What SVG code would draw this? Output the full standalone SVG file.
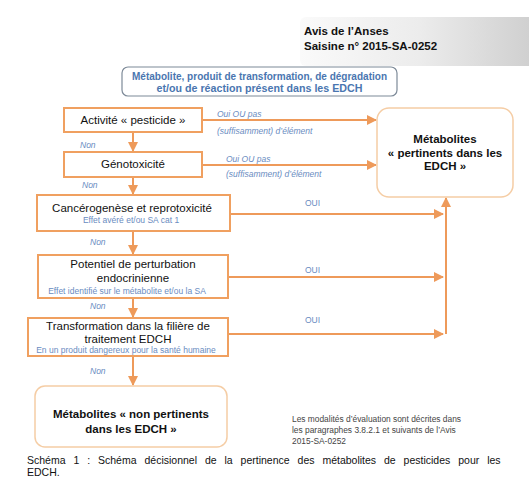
<svg xmlns="http://www.w3.org/2000/svg" width="529" height="487" viewBox="0 0 529 487">
<defs>
<linearGradient id="hdr" x1="0" y1="0" x2="1" y2="0">
<stop offset="0" stop-color="#fafafa"/>
<stop offset="0.5" stop-color="#ececec"/>
<stop offset="1" stop-color="#cdcdcd"/>
</linearGradient>
<marker id="ah" viewBox="0 0 10 10" refX="9" refY="5" markerWidth="5" markerHeight="5" orient="auto" markerUnits="strokeWidth">
<path d="M0,0 L10,5 L0,10 z" fill="#EE9A5A"/>
</marker>
<style>
.box{fill:#fff;stroke:#F0A060;stroke-width:2}
.rbox{fill:#fff;stroke:#F5CDA5;stroke-width:1.5}
.t{font-family:"Liberation Sans",Arial,sans-serif;font-size:11.5px;fill:#111;text-anchor:middle}
.b{font-weight:bold}
.s{font-family:"Liberation Sans",Arial,sans-serif;font-size:8.5px;fill:#6A8CBF;text-anchor:middle}
.i{font-family:"Liberation Sans",Arial,sans-serif;font-size:8.5px;fill:#6A8CBF;font-style:italic}
.c{fill:none;stroke:#EE9A5A;stroke-width:2}
.n{font-family:"Liberation Sans",Arial,sans-serif;font-size:8.4px;fill:#444}
</style>
</defs>
<rect width="529" height="487" fill="#fff"/>

<g id="header">
<rect x="300" y="17" width="240" height="49" rx="6" fill="url(#hdr)"/>
<text x="304" y="35" font-family="Liberation Sans,Arial,sans-serif" font-size="11.5" font-weight="bold" fill="#111">Avis de l’Anses</text>
<text x="304" y="50" font-family="Liberation Sans,Arial,sans-serif" font-size="11.5" font-weight="bold" fill="#111">Saisine n° 2015-SA-0252</text>
</g>

<g id="title">
<rect x="122" y="67" width="275" height="29" rx="6" fill="#fff" stroke="#7D8A98" stroke-width="1.2"/>
<text x="259.5" y="80" class="t b" style="fill:#4A76B0;font-size:11px" textLength="255" lengthAdjust="spacingAndGlyphs">Métabolite, produit de transformation, de dégradation</text>
<text x="259.5" y="92" class="t b" style="fill:#4A76B0;font-size:11px" textLength="206" lengthAdjust="spacingAndGlyphs">et/ou de réaction présent dans les EDCH</text>
</g>

<g id="connectors">
<line class="c" x1="133" y1="132" x2="133" y2="151" marker-end="url(#ah)"/>
<line class="c" x1="133" y1="177" x2="133" y2="194" marker-end="url(#ah)"/>
<line class="c" x1="133" y1="231" x2="133" y2="254" marker-end="url(#ah)"/>
<line class="c" x1="133" y1="298" x2="133" y2="317" marker-end="url(#ah)"/>
<line class="c" x1="133" y1="356" x2="133" y2="385" marker-end="url(#ah)"/>
<line class="c" x1="202" y1="120" x2="376" y2="120" marker-end="url(#ah)"/>
<line class="c" x1="202" y1="165" x2="376" y2="165" marker-end="url(#ah)"/>
<line class="c" x1="230" y1="214" x2="443" y2="214" marker-end="url(#ah)"/>
<line class="c" x1="228" y1="277" x2="443" y2="277" marker-end="url(#ah)"/>
<line class="c" x1="228" y1="334" x2="443" y2="334" marker-end="url(#ah)"/>
<line class="c" x1="446" y1="334" x2="446" y2="198" marker-end="url(#ah)"/>
<text x="80" y="148" class="i">Non</text>
<text x="82" y="188" class="i">Non</text>
<text x="90" y="245" class="i">Non</text>
<text x="90" y="309" class="i">Non</text>
<text x="90" y="374" class="i">Non</text>
<text x="217" y="117" class="i">Oui OU pas</text>
<text x="217" y="134" class="i">(suffisamment) d’élément</text>
<text x="226" y="162" class="i">Oui OU pas</text>
<text x="226" y="177" class="i">(suffisamment) d’élément</text>
<text x="305" y="206" class="s" style="text-anchor:start">OUI</text>
<text x="305" y="273" class="s" style="text-anchor:start">OUI</text>
<text x="305" y="323" class="s" style="text-anchor:start">OUI</text>
</g>

<g id="activite">
<rect class="box" x="64" y="108" width="138" height="24"/>
<text x="133" y="124" class="t">Activité « pesticide »</text>
</g>

<g id="genotoxicite">
<rect class="box" x="64" y="152" width="138" height="25"/>
<text x="133" y="168" class="t">Génotoxicité</text>
</g>

<g id="cancerogenese">
<rect class="box" x="37" y="195" width="193" height="36"/>
<text x="132" y="212" class="t">Cancérogenèse et reprotoxicité</text>
<text x="131" y="223" class="s">Effet avéré et/ou SA cat 1</text>
</g>

<g id="perturbation">
<rect class="box" x="38" y="255" width="190" height="43"/>
<text x="133" y="268" class="t">Potentiel de perturbation</text>
<text x="133" y="282" class="t">endocrinienne</text>
<text x="127" y="294" class="s">Effet identifié sur le métabolite et/ou la SA</text>
</g>

<g id="transformation">
<rect class="box" x="28" y="318" width="200" height="38"/>
<text x="128" y="330" class="t">Transformation  dans la filière de</text>
<text x="128" y="343" class="t">traitement EDCH</text>
<text x="126" y="353" class="s">En un produit dangereux pour la santé humaine</text>
</g>

<g id="pertinents">
<rect class="rbox" x="377" y="108" width="136" height="89" rx="12"/>
<text x="445" y="143" class="t b">Métabolites</text>
<text x="445" y="157" class="t b">« pertinents dans les</text>
<text x="445" y="170" class="t b">EDCH »</text>
</g>

<g id="non-pertinents">
<rect class="rbox" x="35" y="386" width="192" height="61" rx="10"/>
<text x="131" y="418" class="t b">Métabolites « non pertinents</text>
<text x="131" y="433" class="t b">dans les EDCH »</text>
</g>

<g id="note">
<text x="292" y="422" class="n">Les modalités d’évaluation sont décrites dans</text>
<text x="292" y="433" class="n">les paragraphes 3.8.2.1 et suivants  de l’Avis</text>
<text x="292" y="444" class="n">2015-SA-0252</text>
</g>

<g id="caption">
<text x="27" y="464" font-family="Liberation Sans,Arial,sans-serif" font-size="10.5" fill="#111" word-spacing="5">Schéma 1 : Schéma décisionnel de la pertinence des métabolites de pesticides pour les</text>
<text x="27" y="476" font-family="Liberation Sans,Arial,sans-serif" font-size="10.5" fill="#111">EDCH.</text>
</g>
</svg>
